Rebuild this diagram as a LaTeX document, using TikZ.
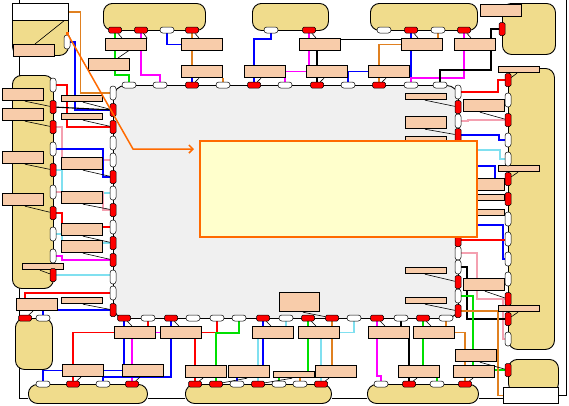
\documentclass[tikz,border=0pt]{standalone}
\usepackage{tikz}
\usetikzlibrary{arrows.meta}
\definecolor{tanfill}{HTML}{F0DC8C}
\definecolor{salmon}{HTML}{F8CCAA}
\definecolor{bodygray}{HTML}{F0F0F0}
\definecolor{notefill}{HTML}{FFFFCC}
\definecolor{noteedge}{HTML}{FF6A00}
\definecolor{wred}{HTML}{FF0000}
\definecolor{wblue}{HTML}{0000FF}
\definecolor{wgreen}{HTML}{00E000}
\definecolor{wmag}{HTML}{FF00FF}
\definecolor{worange}{HTML}{E08020}
\definecolor{wcyan}{HTML}{80E0F0}
\definecolor{wpink}{HTML}{F4A0B0}
\pgfdeclarelayer{under}
\pgfdeclarelayer{base}
\pgfdeclarelayer{wiring}
\pgfdeclarelayer{front}
\pgfsetlayers{under,base,wiring,main,front}

\begin{document}
\begin{tikzpicture}[x=1pt, y=-1pt,
  blob/.style={draw, fill=tanfill, rounded corners=9pt, line width=0.9pt, inner sep=0pt, anchor=north west},
  plate/.style={draw, fill=white, line width=0.9pt, inner sep=0pt, anchor=north west},
  lbl/.style={draw, fill=salmon, line width=1.2pt, inner sep=0pt, minimum width=41pt, minimum height=12pt, anchor=north west},
  thinlbl/.style={lbl, minimum height=6pt},
  rp/.style={draw, fill=red, rounded corners=1.5pt, inner sep=0pt, line width=0.5pt, minimum width=13pt, minimum height=6pt,
             path picture={\fill ([xshift=-3pt]path picture bounding box.center) circle (0.9pt)
                                 ([xshift=3pt]path picture bounding box.center) circle (0.9pt);}},
  rpv/.style={draw, fill=red, rounded corners=1.5pt, inner sep=0pt, line width=0.5pt, minimum width=6pt, minimum height=13pt,
             path picture={\fill ([yshift=-3pt]path picture bounding box.center) circle (0.9pt)
                                 ([yshift=3pt]path picture bounding box.center) circle (0.9pt);}},
  wp/.style={draw, fill=white, rounded corners=2.8pt, inner sep=0pt, line width=0.5pt, minimum width=14pt, minimum height=6pt},
  wpv/.style={wp, minimum width=6pt, minimum height=14pt},
  wire/.style={line width=1.1pt},
  lead/.style={line width=0.6pt}
]
\begin{pgfonlayer}{under}
\fill[white] (0,0) rectangle (569,405);
\end{pgfonlayer}
\useasboundingbox (0,0) rectangle (569,405);

% blobs and core
\begin{pgfonlayer}{base}
\node[blob, minimum width=102pt, minimum height=27pt] (t1) at (103,3) {};
\node[blob, minimum width=76pt, minimum height=27pt] (t2) at (252,3) {};
\node[blob, minimum width=107pt, minimum height=27pt] (t3) at (370,3) {};
\node[blob, minimum width=53pt, minimum height=51pt] (tr) at (502,3) {};
\node[blob, minimum width=56pt, minimum height=52pt] (lt) at (12,3) {};
\node[plate, minimum width=56pt, minimum height=17pt] (lthead) at (12,3) {};
\node[blob, minimum width=41pt, minimum height=213pt] (lm) at (12,75) {};
\node[blob, minimum width=37pt, minimum height=51pt] (lb) at (15,318) {};
\node[blob, minimum width=46pt, minimum height=281pt] (rm) at (508,68) {};
\node[blob, minimum width=50pt, minimum height=33pt] (br) at (508,359) {};
\node[plate, minimum width=55pt, minimum height=16pt] (wbox) at (503,387) {};
\node[blob, minimum width=119pt, minimum height=19pt] (b1) at (28,384) {};
\node[blob, minimum width=146pt, minimum height=19pt] (b2) at (185,384) {};
\node[blob, minimum width=111pt, minimum height=19pt] (b3) at (367,384) {};
\node[draw, fill=bodygray, rounded corners=12pt, line width=0.9pt, inner sep=0pt, anchor=north west,
      minimum width=345pt, minimum height=233pt] (core) at (113,85) {};
\end{pgfonlayer}

% outer chain
\begin{pgfonlayer}{under}
\coordinate (topl) at (19,0);
\coordinate (topr) at (566,0);
\draw[line width=0.9pt] (topl) |- ([yshift=-4pt]b1.west);
\draw[line width=0.9pt] ([yshift=-4pt]b1.east) -- ([yshift=-4pt]b2.west);
\draw[line width=0.9pt] ([yshift=-4pt]b2.east) -- ([yshift=-4pt]b3.west);
\draw[line width=0.9pt] ([yshift=-4pt]b3.east) -- ([yshift=-4pt]b3.east -| wbox.west);
\draw[line width=0.9pt] (wbox.east) -| (topr);
\end{pgfonlayer}

\begin{pgfonlayer}{front}
\node[draw=noteedge, fill=notefill, line width=2pt, inner sep=0pt, anchor=north west,
      minimum width=277pt, minimum height=96pt] (note) at (199,140) {};
\end{pgfonlayer}

% label plates
\foreach \n/\x/\y in {s1/105/38, s2/88/58, s3/181/38, s4/181/65, s5/244/65, s6/299/38, s7/306/65,
    s8/368/65, s9/401/38, s10/454/38, s11/480/4, s13/13/44, s14/2/88, s15/2/108, s18/61/157,
    s19/61/191, s20/61/223, s21/61/240, s24/2/151, s25/2/193, s26/16/298, s28/463/99, s29/405/116,
    s32/463/178, s35/463/278, s39/455/349, s40/114/326, s41/160/326, s42/62/364, s43/122/364,
    s44/185/365, s45/252/326, s46/298/326, s47/228/365, s49/315/365, s51/368/326, s52/413/326,
    s53/398/365, s54/453/365}
  \node[lbl] (\n) at (\x,\y) {};
\foreach \n/\x/\y in {s12/498/66, s16/61/95, s17/61/113, s22/22/263, s23/61/297, s27/405/93,
    s30/405/136, s31/498/165, s33/463/194, s34/463/209, s36/498/305, s37/405/267, s38/405/297,
    s48/273/371}
  \node[thinlbl] (\n) at (\x,\y) {};
\node[lbl, minimum width=40pt, minimum height=19pt] (s50) at (279,292) {};

% ports
\foreach \x in {129,160,223,285,348,411,440} \node[wp] (ct\x) at (\x,85) {};
\foreach \x in {192,254,317,379} \node[rp] (ct\x) at (\x,85) {};
\foreach \y in {93,143,160,193,227,277,293} \node[wpv] (cl\y) at (113,\y) {};
\foreach \y in {110,127,177,210,243,260,310} \node[rpv] (cl\y) at (113,\y) {};
\foreach \y in {92,121,253,267,296} \node[wpv] (cr\y) at (458,\y) {};
\foreach \y in {107,135,240,282,311} \node[rpv] (cr\y) at (458,\y) {};
\foreach \x in {148,193,217,239,286,354,401,446} \node[wp] (cb\x) at (\x,318) {};
\foreach \x in {124,171,263,308,332,377,423} \node[rp] (cb\x) at (\x,318) {};
\foreach \x in {167,271,384,438} \node[wp] (u\x) at (\x,30) {};
\foreach \x in {115,141,192,309,411,464} \node[rp] (u\x) at (\x,30) {};
\foreach \x in {43,103,237,279,300,381,437} \node[wp] (d\x) at (\x,384) {};
\foreach \x in {73,132,195,216,258,321,409,465} \node[rp] (d\x) at (\x,384) {};
\foreach \y in {85,149,192,234,256} \node[wpv] (l\y) at (53,\y) {};
\foreach \y in {107,127,170,213,275} \node[rpv] (l\y) at (53,\y) {};
\foreach \y in {100,140,159,219,239,259,279,339} \node[wpv] (r\y) at (508,\y) {};
\foreach \y in {80,120,179,199,299,319} \node[rpv] (r\y) at (508,\y) {};
\node[wpv] (lt42) at (67,42) {};
\node[rp] (lb25) at (25,318) {};
\node[wp] (lb43) at (43,318) {};
\node[rpv] (tr29) at (502,29) {};
\node[rpv] (br370) at (508,370) {};

\begin{pgfonlayer}{wiring}
% top wires
\draw[wire, wgreen] (u115) -- ++(0,45) -| (ct129);
\draw[wire, wmag] (u141) -- ++(0,45) -| (ct160);
\draw[wire, wblue] (u167) |- (s3.west);
\draw[wire, worange] (u192) -- (u192 |- s4.north);
\draw[wire, wblue] (u192 |- s4.south) -- (ct192);
\draw[wire, worange] (ct223 |- s4.south) -- (ct223);
\draw[wire, wblue] (u271) -- ++(0,9) -| (ct254);
\draw[wire, wmag] (u309) -- (u309 |- s7.north);
\draw[wire] (ct317 |- s6.south) -- (ct317);
\draw[wire, wmag] (s7.west) -| (ct285);
\draw[wire] ([yshift=5pt]s6.east) -- ([yshift=5pt]s6.east -| s9.west);
\draw[wire, wblue] (s7.east) -- (s8.west);
\draw[wire, wblue] (s7.east) -| (ct348);
\draw[wire, worange] (s9.west) -| (ct379);
\draw[wire, worange] (u438) -- (u438 |- s9.north);
\draw[wire, wblue] (u411) -- (ct411);
\draw[wire, wmag] (u464) -- ++(0,48) -| (ct411);
\draw[wire] (tr29) -- ++(-11,0) -- ++(0,41) -| (ct440);
% left wires
\draw[wire, worange] (lthead.east) -- ++(12,0) |- (cl93);
\draw[wire, wblue] (lt42) -- ++(8,0) |- (cl110);
\draw[wire, wred] (l85) -- ++(14,0) |- (cl127);
\draw[wire] (l107) -- (cl110);
\draw[wire, wpink] (l127) -- ++(9,0) |- (cl160);
\draw[wire, wblue] (l149) -- ++(50,0) |- (cl177);
\draw[wire, wcyan] (l170) -- ++(9,0) |- (cl193);
\draw[wire, wpink] (l192) -- ++(50,0) |- (cl210);
\draw[wire, wred] (l213) -- ++(9,0) |- (cl227);
\draw[wire, wcyan] (l234) -- ++(9,0) |- (cl243);
\draw[wire, wmag] (l256) -- ++(9,0) |- (cl260);
\draw[wire, wcyan] (l275) -- (l275 -| cl277);
\draw[wire, wred] ([xshift=9pt]s26.north west) |- (cl293);
\draw[wire, wblue] (lb43) |- (cl310);
% bottom wires
\draw[wire, wred] (cb148) -- (cb148 |- s40.north);
\draw[wire, wred] (s40.west) -| (d73);
\draw[wire, wblue] (cb124) -- (cb124 |- s43.north);
\draw[wire, wmag] (s40.east) -- (s41.west);
\draw[wire, wmag] (d132 |- s40.south) -- (d132);
\draw[wire, wblue] (cb171) -- ++(0,59) -| (d103);
\draw[wire, wblue] (d43) |- (s43.west);
\draw[wire, wred] (s41.east) -| (cb217);
\draw[wire, wred] (d195 |- s41.south) -- (d195);
\draw[wire, wgreen] (cb239) -- ++(0,15) -| (d216);
\draw[wire, wblue] (cb263) -- (cb263 |- s47.north);
\draw[wire, wblue] (d237 |- s47.south) -- (d237);
\draw[wire, wcyan] (cb286) -- (cb286 |- s45.north);
\draw[wire, wcyan] (d258 |- s45.south) -- (d258);
\draw[wire, wgreen] (cb308) -- (cb308 |- s48.north);
\draw[wire, wgreen] (d279 |- s48.south) -- (d279);
\draw[wire, worange] (d300 |- s48.south) -- (d300);
\draw[wire, wcyan] (cb354) |- (s46.east);
\draw[wire, wcyan] (d321 |- s46.south) -- (d321);
\draw[wire, worange] (cb332) -- (cb332 |- s49.north);
\draw[wire, wmag] (cb377) -- ++(0,58) -| (d381);
\draw[wire] (cb401) -- (cb401 |- s51.north);
\draw[wire] (d409 |- s51.south) -- (d409);
\draw[wire, wgreen] (cb423) -- (cb423 |- s53.north);
\draw[wire, wgreen] (d437 |- s53.south) -- (d437);
\draw[wire, worange] (cb446) -- (cb446 |- s52.north);
\draw[wire, worange] (s52.east) -| (d465);
% right wires
\draw[wire, wred] (cr92) -- ++(40,0) |- (r80);
\draw[wire, wpink] (cr121) -- ++(10,0) |- (r120);
\draw[wire, wblue] (cr135) -- ++(41,0) |- (r140);
\draw[wire, wcyan] ([yshift=-10pt]note.north east) -- ++(22,0) |- (r159);
\draw[wire, wblue] ([yshift=-26pt]note.north east) -- ++(17,0) -- ++(0,12);
\draw[wire, wgreen] (s33.east) -- (r199);
\draw[wire, wblue] ([yshift=13pt]note.south east) -- ++(25,0) |- (r259);
\draw[wire, wred] (cr240) -- (cr240 -| r239);
\draw[wire, wpink] (cr253) -- ++(19,0) |- (r299);
\draw[wire, wpink] ([xshift=-5pt]r299.center) |- (r339);
\draw[wire] (cr267) -- ++(9,0) |- (r319);
\draw[wire, wgreen] (cr296) -- ++(15,0) |- (br370);
\draw[wire, worange] (cr311) -- ++(40,0) |- (wbox.west);
% leaders
\draw[lead] (u115) -- ([xshift=7pt]u115 |- s1.north);
\draw[lead] (u141) -- ([xshift=6pt]u141 |- s1.north);
\draw[lead] (u192) -- ([xshift=7pt]u192 |- s3.north);
\draw[lead] (u309) -- ([xshift=7pt]u309 |- s6.north);
\draw[lead] (u411) -- ([xshift=7pt]u411 |- s9.north);
\draw[lead] (u464) -- ([xshift=7pt]u464 |- s10.north);
\draw[lead] (ct192) -- ([xshift=7pt]ct192 |- s4.south);
\draw[lead] (ct254) -- ([xshift=7pt]ct254 |- s5.south);
\draw[lead] (ct317) -- ([xshift=7pt]ct317 |- s7.south);
\draw[lead] (ct379) -- ([xshift=7pt]ct379 |- s8.south);
\draw[lead] ([xshift=30pt]s2.north west) -- (s1.north east);
\draw[lead] ([xshift=22pt]s13.north west) -- ([xshift=-5pt]lthead.south east);
\draw[lead] (l107) -- ([xshift=23pt]s14.south west);
\draw[lead] (l127) -- ([xshift=23pt]s15.south west);
\draw[lead] (l170) -- ([xshift=23pt]s24.south west);
\draw[lead] (l213) -- ([xshift=23pt]s25.south west);
\draw[lead] (l275) -- ([xshift=18pt]s22.south west);
\draw[lead] (cl110) -- ([xshift=22pt]s16.south west);
\draw[lead] (cl127) -- ([xshift=22pt]s17.south west);
\draw[lead] (cl177) -- ([xshift=22pt]s18.south west);
\draw[lead] (cl210) -- ([xshift=22pt]s19.south west);
\draw[lead] (cl243) -- ([xshift=22pt]s20.south west);
\draw[lead] (cl260) -- ([xshift=22pt]s21.south west);
\draw[lead] (cl310) -- ([xshift=22pt]s23.south west);
\draw[lead] (lb25) -- ([xshift=17pt]s26.south west);
\draw[lead] (cb124) -- ([xshift=8pt]cb124 |- s40.north);
\draw[lead] (cb171) -- ([xshift=8pt]cb171 |- s41.north);
\draw[lead] (cb263) -- ([xshift=8pt]cb263 |- s45.north);
\draw[lead] (cb308) -- ([xshift=8pt]cb308 |- s46.north);
\draw[lead] (cb377) -- ([xshift=8pt]cb377 |- s51.north);
\draw[lead] (cb423) -- ([xshift=8pt]cb423 |- s52.north);
\draw[lead] (cb332) -- ([xshift=24pt]s50.south west);
\draw[lead] (d73) -- ([xshift=8pt]d73 |- s42.south);
\draw[lead] (d132) -- ([xshift=8pt]d132 |- s43.south);
\draw[lead] (d195) -- ([xshift=8pt]d195 |- s44.south);
\draw[lead] (d216) -- ([xshift=31pt]d216 |- s47.south);
\draw[lead] (d258) -- ([xshift=34pt]d258 |- s48.south);
\draw[lead] (d321) -- ([xshift=8pt]d321 |- s49.south);
\draw[lead] (d409) -- ([xshift=8pt]d409 |- s53.south);
\draw[lead] (d465) -- ([xshift=8pt]d465 |- s54.south);
\draw[lead] (cr107) -- ([xshift=20pt]s27.south west);
\draw[lead] (cr135) -- ([xshift=20pt]s29.south west);
\draw[lead] (cr282) -- ([xshift=20pt]s37.south west);
\draw[lead] (cr311) -- ([xshift=20pt]s38.south west);
\draw[lead] (r80) -- ([xshift=19pt]s12.south west);
\draw[lead] (r120) -- ([xshift=17pt]s28.south west);
\draw[lead] (r179) -- ([xshift=20pt]s31.south west);
\draw[lead] (r299) -- ([xshift=22pt]s35.south west);
\draw[lead] (r319) -- ([xshift=20pt]s36.south west);
\draw[lead] (br370) -- ([xshift=25pt]s39.south west);
\end{pgfonlayer}

% pointer into the note
\begin{pgfonlayer}{front}
\node[fill=noteedge, inner sep=0pt, minimum size=3pt] (srcmark) at (67,33) {};
\coordinate (bend) at (133,149);
\draw[noteedge, line width=1.5pt, -{Straight Barb[length=4pt]}]
  (srcmark) -- (bend) -- ([xshift=-5pt]bend -| note.west);
\end{pgfonlayer}
\end{tikzpicture}
\end{document}
